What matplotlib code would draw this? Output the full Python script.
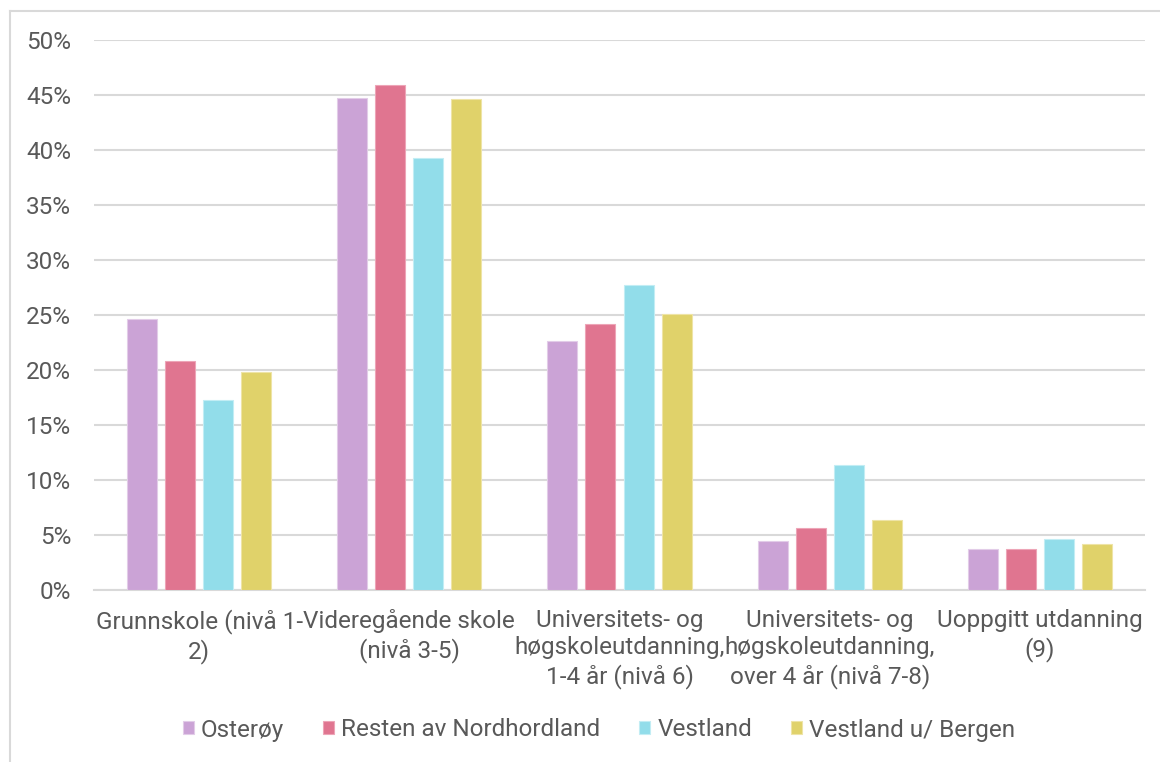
import numpy as np
import matplotlib.pyplot as plt
from matplotlib.lines import Line2D
from matplotlib.ticker import PercentFormatter

plt.rcParams['font.family'] = ['Roboto', 'DejaVu Sans']

categories = [
    "Grunnskole (nivå 1-\n2)",
    "Videregående skole\n(nivå 3-5)",
    "Universitets- og\nhøgskoleutdanning,\n1-4 år (nivå 6)",
    "Universitets- og\nhøgskoleutdanning,\nover 4 år (nivå 7-8)",
    "Uoppgitt utdanning\n(9)",
]
series_names = ["Osterøy", "Resten av Nordhordland", "Vestland", "Vestland u/ Bergen"]
osteroy = [24.6, 44.7, 22.6, 4.5, 3.7]
resten = [20.8, 45.9, 24.2, 5.6, 3.7]
vestland = [17.3, 39.3, 27.7, 11.4, 4.6]
vestland_ub = [19.8, 44.6, 25.1, 6.4, 4.2]
colors = ["#CBA3D6", "#E07590", "#92DDEA", "#E0D26A"]
edge_colors = ["#E2CCE8", "#EDA5B7", "#C2EDF4", "#EEE4A6"]

text_color = "#595959"
grid_color = "#D9D9D9"
fs = 17.5

fig = plt.figure(figsize=(11.6, 7.62), dpi=100)
ax = fig.add_axes([94 / 1160, 1 - 590 / 762, (1145 - 94) / 1160, 550 / 762])

x = np.arange(len(categories))
width = 30 / 210
step = 38 / 210
all_series = [osteroy, resten, vestland, vestland_ub]
for i, (name, vals) in enumerate(zip(series_names, all_series)):
    offset = (i - 1.5) * step
    ax.bar(x + offset, np.array(vals) / 100, width, color=colors[i],
           edgecolor=edge_colors[i], linewidth=0.8, label=name, zorder=3)

ax.set_xlim(-0.5, len(categories) - 0.5)
ax.set_ylim(0, 0.5)
ax.set_yticks(np.arange(0, 0.51, 0.05))
ax.yaxis.set_major_formatter(PercentFormatter(1.0, decimals=0))
ax.grid(axis='y', color=grid_color, linewidth=1.5, zorder=0)
ax.set_axisbelow(True)
for side in ['top', 'right', 'left']:
    ax.spines[side].set_visible(False)
ax.spines['bottom'].set_color(grid_color)
ax.spines['bottom'].set_linewidth(1.5)

ax.set_xticks(x)
ax.set_xticklabels(categories, fontsize=fs, color=text_color, linespacing=1.22)
ax.tick_params(axis='x', length=0, pad=14)
ax.tick_params(axis='y', length=0, labelsize=fs, labelcolor=text_color, pad=16.5)

leg = fig.legend(loc='center', bbox_to_anchor=(599 / 1160, 1 - 730 / 762), ncol=4,
                 frameon=False, fontsize=fs, handlelength=0.45, handleheight=0.45,
                 handletextpad=0.3, columnspacing=1.6)
for t in leg.get_texts():
    t.set_color(text_color)

# outer chart border (top and left visible)
fig.add_artist(Line2D([10 / 1160, 1], [1 - 11 / 762, 1 - 11 / 762], color=grid_color, linewidth=1.5))
fig.add_artist(Line2D([10 / 1160, 10 / 1160], [0, 1 - 11 / 762], color=grid_color, linewidth=1.5))

fig.savefig("out.png", dpi=100, facecolor="white")
